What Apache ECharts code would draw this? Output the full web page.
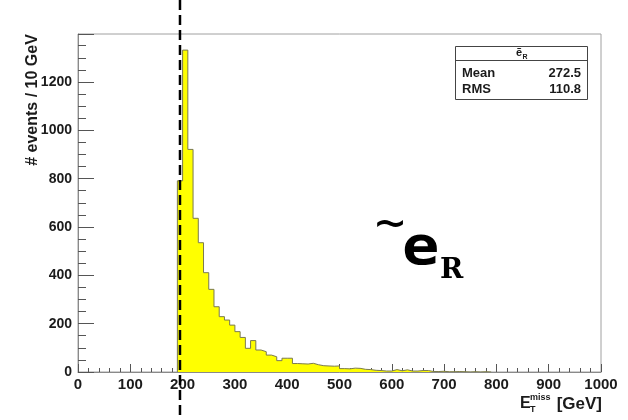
<!DOCTYPE html>
<html>
<head>
<meta charset="utf-8">
<script src="https://cdn.jsdelivr.net/npm/echarts@6/dist/echarts.min.js"></script>
<style>
  html, body { margin: 0; padding: 0; background: #fff; }
  #chart { width: 628px; height: 420px; }
</style>
</head>
<body>
<div id="chart"></div>
<script>
// Missing transverse energy distribution, 10 GeV bins
const binStart = 190;   // low edge of the first filled bin [GeV]
const binWidth = 10;    // [GeV]
const counts = [
  791, 1332, 921, 636, 535, 411, 342, 270, 229, 215,
  194, 167, 143, 98, 130, 91, 84, 70, 63, 47,
  57, 57, 35, 34, 33, 36, 30, 26, 25, 24,
  25, 14, 13, 16, 15, 11, 10, 7, 6, 4,
  4, 10, 5, 9, 4, 4, 6, 6, 2, 2,
  3, 1, 1, 2, 1, 0, 1, 0, 1, 0
];
const xRange = [0, 1000];
const xStep = 100;
const yStep = 200;
const cutValue = 195;   // selection cut on E_T^miss [GeV]

const statsTitle = 'ẽ';
const statsTitleSub = 'R';
const statsLabels = ['Mean', 'RMS'];
const statsValues = ['272.5', '110.8'];

const yAxisTitle = '# events / 10 GeV';
const xAxisTitle = ['E', 'T', 'miss', '[GeV]'];
const bigLabel = ['~', 'e', 'R'];

// Stepped outline points: rise at the first edge, one point per bin low edge,
// then fall back to zero at the last high edge.
const stepData = [[binStart, 0]];
counts.forEach((c, i) => stepData.push([binStart + i * binWidth, c]));
stepData.push([binStart + counts.length * binWidth, 0]);

const yMax = 1.05 * Math.max(...counts);

const sans = 'Liberation Sans';
const ink = '#1b1b1b';

function txt(x, y, text, size, opts) {
  const o = opts || {};
  return {
    type: 'text', x: x, y: y, z: o.z || 10,
    rotation: o.rotation || 0, scaleX: o.scaleX || 1,
    style: {
      text: text, fill: o.fill || ink,
      fontFamily: o.family || sans, fontSize: size,
      fontWeight: o.weight || 'bold',
      align: o.align || 'left', verticalAlign: o.vAlign || 'middle'
    }
  };
}

const chart = echarts.init(document.getElementById('chart'), null, { renderer: 'canvas' });

chart.setOption({
  animation: false,
  backgroundColor: '#fff',
  grid: {
    left: 78, right: 27, top: 34, bottom: 48,
    show: true, borderColor: '#a0a0a0', borderWidth: 1, backgroundColor: 'transparent'
  },
  xAxis: {
    type: 'value',
    min: xRange[0], max: xRange[1], interval: xStep,
    axisLine: { show: true, onZero: false, lineStyle: { color: '#8a8a8a', width: 1 } },
    axisTick: { show: true, inside: true, length: 8, lineStyle: { color: '#555', width: 1 } },
    minorTick: { show: true, splitNumber: 5, length: 4, lineStyle: { color: '#555', width: 1 } },
    splitLine: { show: false },
    axisLabel: {
      color: ink, fontFamily: sans, fontWeight: 'bold', fontSize: 15, margin: 5,
      formatter: v => String(v)
    }
  },
  yAxis: {
    type: 'value',
    min: 0, max: yMax, interval: yStep,
    axisLine: { show: true, lineStyle: { color: '#8a8a8a', width: 1 } },
    axisTick: { show: true, inside: true, length: 16, lineStyle: { color: '#555', width: 1 } },
    minorTick: { show: true, splitNumber: 4, length: 8, lineStyle: { color: '#555', width: 1 } },
    splitLine: { show: false },
    axisLabel: {
      color: ink, fontFamily: sans, fontWeight: 'bold', fontSize: 14, margin: 6,
      showMaxLabel: false,
      formatter: v => String(v)
    }
  },
  series: [{
    type: 'line',
    step: 'end',
    data: stepData,
    symbol: 'none',
    clip: true,
    lineStyle: { color: '#7a7a50', width: 1 },
    areaStyle: { color: '#ffff00', opacity: 1 },
    z: 2
  }]
});

const cutX = chart.convertToPixel({ xAxisIndex: 0 }, cutValue);

chart.setOption({
  graphic: [
    // vertical axis title
    txt(33, 100, yAxisTitle, 16, { rotation: Math.PI / 2, align: 'center' }),

    // horizontal axis title: E with stacked sub/superscript
    txt(520, 404, xAxisTitle[0], 16),
    txt(530, 410, xAxisTitle[1], 9),
    txt(530, 398, xAxisTitle[2], 9),
    txt(602, 404, xAxisTitle[3], 17, { align: 'right' }),

    // statistics box
    { type: 'rect', z: 10, shape: { x: 455.5, y: 46.5, width: 132, height: 53 },
      style: { fill: '#fff', stroke: '#444', lineWidth: 1 } },
    { type: 'line', z: 11, shape: { x1: 455.5, y1: 60.5, x2: 587.5, y2: 60.5 },
      style: { stroke: '#444', lineWidth: 1 } },
    txt(519, 53, statsTitle, 11, { align: 'center', z: 11 }),
    txt(525, 57, statsTitleSub, 7, { align: 'center', z: 11 }),
    txt(462, 73, statsLabels[0], 13, { z: 11 }),
    txt(581, 73, statsValues[0], 13, { align: 'right', z: 11 }),
    txt(462, 89, statsLabels[1], 13, { z: 11 }),
    txt(581, 89, statsValues[1], 13, { align: 'right', z: 11 }),

    // large particle label
    txt(390, 226, bigLabel[0], 50, { family: 'DejaVu Sans Mono', weight: 'normal', align: 'center', fill: '#000' }),
    txt(402, 250, bigLabel[1], 54, { family: 'DejaVu Sans Mono', scaleX: 1.15, fill: '#000' }),
    txt(440, 271, bigLabel[2], 28, { family: 'DejaVu Serif', fill: '#000' }),

    // dashed cut line across the whole figure
    { type: 'line', z: 20,
      shape: { x1: cutX, y1: 0, x2: cutX, y2: 420 },
      style: { stroke: '#000', lineWidth: 2.5, lineDash: [10, 5] } }
  ]
});
</script>
</body>
</html>
